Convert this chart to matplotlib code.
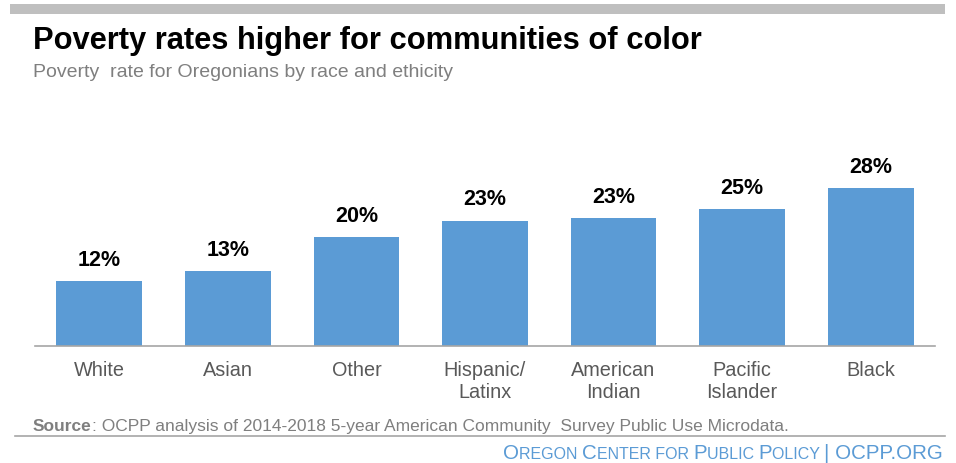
import matplotlib
matplotlib.use('Agg')
import matplotlib.pyplot as plt
from matplotlib.patches import Rectangle
from matplotlib.lines import Line2D

plt.rcParams['font.family'] = ['Liberation Sans', 'DejaVu Sans']

# data
groups = ['White', 'Asian', 'Other', 'Hispanic/\nLatinx', 'American\nIndian', 'Pacific\nIslander', 'Black']
rates = [11.7, 13.4, 19.6, 22.5, 23.0, 24.6, 28.4]
rate_labels = ['12%', '13%', '20%', '23%', '23%', '25%', '28%']

title = 'Poverty rates higher for communities of color'
subtitle = 'Poverty  rate for Oregonians by race and ethicity'
source = ': OCPP analysis of 2014-2018 5-year American Community  Survey Public Use Microdata.'

W, H = 956, 464
fig = plt.figure(figsize=(W / 100, H / 100), dpi=100)

bar_color = '#5b9bd5'
gray_txt = '#7f7f7f'


def fx(px):
    return px / W


def fy(py):
    return 1 - py / H


# top gray band
fig.patches.append(Rectangle((fx(10), fy(15)), fx(935), 10 / H, transform=fig.transFigure,
                             color='#bfbfbf', lw=0))

fig.text(fx(33), fy(49), title, fontsize=22.2, fontweight='bold', color='#000000', va='baseline')
fig.text(fx(33), fy(77), subtitle, fontsize=14, color=gray_txt, va='baseline')

# plot area: baseline at y=347px, 900px wide
ax = fig.add_axes([fx(35), fy(347), fx(900), 223 / H])
x = range(len(groups))
ax.bar(x, rates, width=0.667, color=bar_color)
ax.set_xlim(-0.5, len(groups) - 0.5)
ax.set_ylim(0, 40)
for s in ['top', 'right', 'left']:
    ax.spines[s].set_visible(False)
ax.spines['bottom'].set_color('#a6a6a6')
ax.spines['bottom'].set_linewidth(1.2)
ax.set_yticks([])
ax.set_xticks(list(x))
ax.set_xticklabels(groups, fontsize=14.3, color='#595959', linespacing=1.2, va='top')
ax.tick_params(axis='x', length=0, pad=10)

for i, (v, lab) in enumerate(zip(rates, rate_labels)):
    ax.annotate(lab, (i, v), xytext=(0, 8), textcoords='offset points',
                ha='center', va='bottom', fontsize=15.5, fontweight='bold', color='#000000')

fig.canvas.draw()
renderer = fig.canvas.get_renderer()


def seq_text(segments, x0, ybase, align='left'):
    # draw text pieces one after the other, measuring each in pixels
    arts = []
    widths = []
    for txt, kw in segments:
        t = fig.text(0, 0, txt, va='baseline', **kw)
        widths.append(t.get_window_extent(renderer).width)
        arts.append(t)
    total = sum(widths)
    cur = x0 - total if align == 'right' else x0
    for t, w in zip(arts, widths):
        t.set_position((fx(cur), fy(ybase)))
        cur += w


seq_text([('Source', dict(fontsize=12.5, fontweight='bold', color=gray_txt)),
          (source, dict(fontsize=12.5, color=gray_txt))], 33, 431)

fig.lines.append(Line2D([fx(15), fx(945)], [fy(437), fy(437)], transform=fig.transFigure,
                        color='#a6a6a6', lw=1.2))

blue = '#5b9bd5'
big = dict(fontsize=14.8, color=blue)
small = dict(fontsize=11.5, color=blue)
footer = [('O', big), ('REGON ', small), ('C', big), ('ENTER FOR ', small), ('P', big),
          ('UBLIC ', small), ('P', big), ('OLICY ', small), ('| OCPP.ORG', big)]
seq_text(footer, 943, 459, align='right')

fig.savefig('out.png', dpi=100)
